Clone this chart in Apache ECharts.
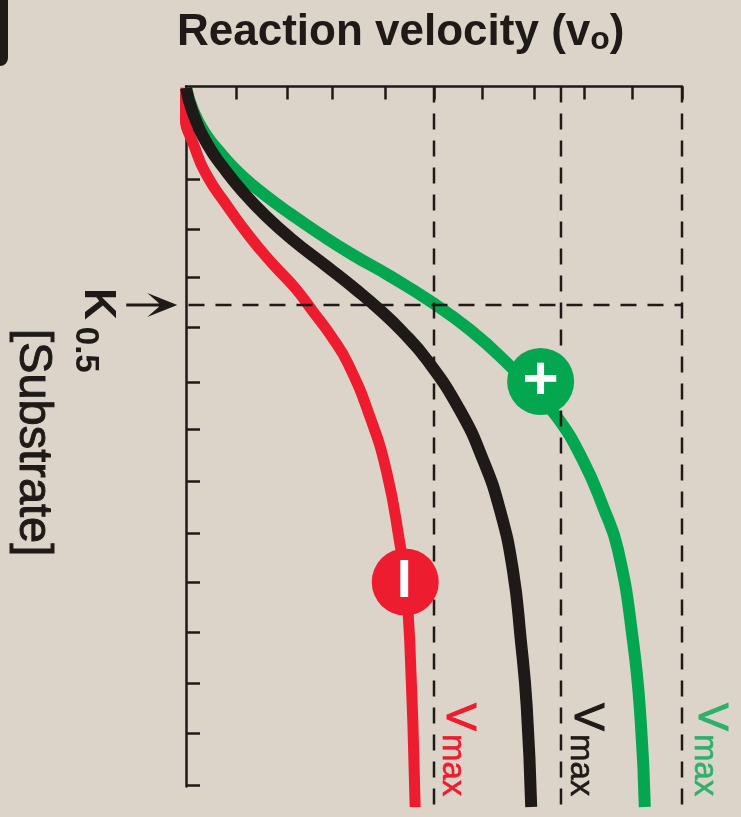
<!DOCTYPE html>
<html>
<head>
<meta charset="utf-8">
<style>html,body{margin:0;padding:0;background:#dcd4c9}#c{width:741px;height:817px}</style>
<script src="https://cdn.jsdelivr.net/npm/echarts@6/dist/echarts.min.js"></script>
</head>
<body>
<div id="c"></div>
<script>
// [velocity, substrate] in axis units
const activatedCurve = [[0,0.03],[0.14,0.47],[0.38,0.93],[0.73,1.37],[1.13,1.79],[1.59,2.17],[2.14,2.57],[2.70,2.95],[3.37,3.37],[4.11,3.79],[4.92,4.29],[5.73,4.87],[6.47,5.53],[6.98,6.07],[7.48,6.61],[8.00,7.47],[8.41,8.41],[8.71,9.27],[9.01,11.07],[9.17,12.73],[9.25,14.41]];
const baseCurve = [[0,0.03],[0.14,0.53],[0.44,1.17],[0.79,1.67],[1.15,2.11],[1.59,2.57],[2.14,3.06],[2.84,3.60],[3.45,4.08],[3.91,4.47],[4.33,4.87],[4.86,5.47],[5.52,6.47],[5.99,7.47],[6.33,8.47],[6.59,9.67],[6.75,11.07],[6.87,12.41],[6.96,14.41]];
const inhibitedCurve = [[0,0.03],[-0.02,0.53],[0.18,1.23],[0.44,1.81],[0.79,2.33],[1.29,3.01],[1.75,3.55],[2.20,4.03],[2.56,4.50],[2.94,5.01],[3.27,5.55],[3.71,6.61],[4.05,7.73],[4.31,9.13],[4.42,9.91],[4.51,11.07],[4.62,14.41]];
const vmaxValues = [5.0, 7.56, 10];
const vmaxEnd = 14.36;
const k05 = 4.37;
const activatorPoint = [7.15, 5.90];
const inhibitorPoint = [4.42, 9.91];
const xTickValues = [1.01,2.05,2.94,4.02,5.0,5.97,7.02,8.02,9.0,10];
const yTickValues = [0.87,1.85,2.85,3.81,4.81,5.91,6.85,7.89,8.93,9.91,10.91,11.93,12.93,13.97];
const arrowMark = [[-0.69,4.37]];

const INK = '#1f1a18', RED = '#ed1c2e', GREEN = '#05a650', GREEN_TXT = '#2eb06c';
const dash = (data) => ({type:'line', data, symbol:'none', clip:false, silent:true, z:5,
  lineStyle:{color:INK, width:2.5, type:[16,11]}});
const curve = (data,color,width,z) => ({type:'line', data, smooth:0.5, symbol:'none', clip:false, silent:true, z,
  lineStyle:{color, width, cap:'butt'}});
const rot = -Math.PI/2;
const vmaxLabel = (x,color) => ({type:'text', x, y:703, rotation:rot, z:10, style:{
  text:'{a|V}{b|max}', align:'left', verticalAlign:'middle', fill:color,
  rich:{a:{fontFamily:'Liberation Sans',fontSize:42,fill:color,stroke:color,lineWidth:1,padding:[0,3,0,0]},
        b:{fontFamily:'Liberation Sans',fontSize:33,fill:color,stroke:color,lineWidth:0.6,padding:[14,0,0,0]}}}});

const chart = echarts.init(document.getElementById('c'),null,{renderer:'canvas'});
chart.setOption({
  animation:false,
  backgroundColor:'#dcd4c9',
  title:{left:177,top:10,padding:0,text:'{m|Reaction velocity (v}{s|o}{m|)}',
    textStyle:{rich:{m:{fontFamily:'Liberation Sans',fontWeight:'bold',fontSize:44,color:INK},
      s:{fontFamily:'Liberation Sans',fontWeight:'bold',fontSize:32,color:INK,padding:[14,0,0,0]}}}},
  grid:{left:186,top:86.5,width:496,height:700},
  xAxis:{type:'value',position:'top',min:0,max:10,interval:1,
    axisLine:{onZero:false,lineStyle:{color:INK,width:2.5}},
    axisTick:{show:true,inside:true,length:13,customValues:xTickValues,lineStyle:{color:INK,width:2.5}},
    axisLabel:{show:false},splitLine:{show:false}},
  yAxis:{type:'value',inverse:true,position:'left',min:0,max:14,interval:1,
    axisLine:{show:true,onZero:false,lineStyle:{color:INK,width:2.5}},
    axisTick:{show:true,inside:true,length:14,customValues:yTickValues,lineStyle:{color:INK,width:2.5}},
    axisLabel:{show:false},splitLine:{show:false}},
  series:[
    curve(activatedCurve,GREEN,12,2),
    curve(inhibitedCurve,RED,11,3),
    curve(baseCurve,INK,12,4),
    ...vmaxValues.map(v=>dash([[v,0],[v,vmaxEnd]])),
    dash([[0.05,k05],[10,k05]]),
    {type:'scatter',data:arrowMark,symbol:'path://M21 0 L51 12 L21 24 L33 13.5 L0 13.5 L0 10.5 L33 10.5 Z',symbolSize:[51,24],clip:false,silent:true,z:6,
      itemStyle:{color:INK,opacity:1}},
    {type:'scatter',data:[activatorPoint],symbol:'circle',symbolSize:67,clip:false,silent:true,z:8,
      itemStyle:{color:GREEN,opacity:1},
      label:{show:true,position:'inside',formatter:'+',color:'#fff',fontFamily:'Liberation Sans',fontWeight:'bold',fontSize:62}},
    {type:'scatter',data:[inhibitorPoint],symbol:'circle',symbolSize:67,clip:false,silent:true,z:8,
      itemStyle:{color:RED,opacity:1},
      label:{show:true,position:'inside',formatter:'I',color:'#fff',fontFamily:'Liberation Sans',fontWeight:'bold',fontSize:54,offset:[-1,0]}}
  ],
  graphic:[
    {type:'rect',shape:{x:-10,y:-10,width:18,height:76,r:[0,0,8,0]},style:{fill:INK},z:1},
    {type:'text',x:33,y:329,rotation:rot,z:10,style:{text:'[Substrate]',align:'left',verticalAlign:'middle',
      fontFamily:'Liberation Sans',fontSize:47,fill:INK,stroke:INK,lineWidth:1}},
    {type:'text',x:97,y:288,rotation:rot,z:10,style:{text:'{k|K}{n|0.5}',align:'left',verticalAlign:'middle',fill:INK,
      rich:{k:{fontFamily:'Liberation Sans',fontWeight:'bold',fontSize:44,fill:INK,padding:[0,7,0,0]},
            n:{fontFamily:'Liberation Sans',fontWeight:'bold',fontSize:33,fill:INK,padding:[24,0,0,0]}}}},
    vmaxLabel(459,RED),
    vmaxLabel(587,INK),
    vmaxLabel(711,GREEN_TXT)
  ]
});
</script>
</body>
</html>
